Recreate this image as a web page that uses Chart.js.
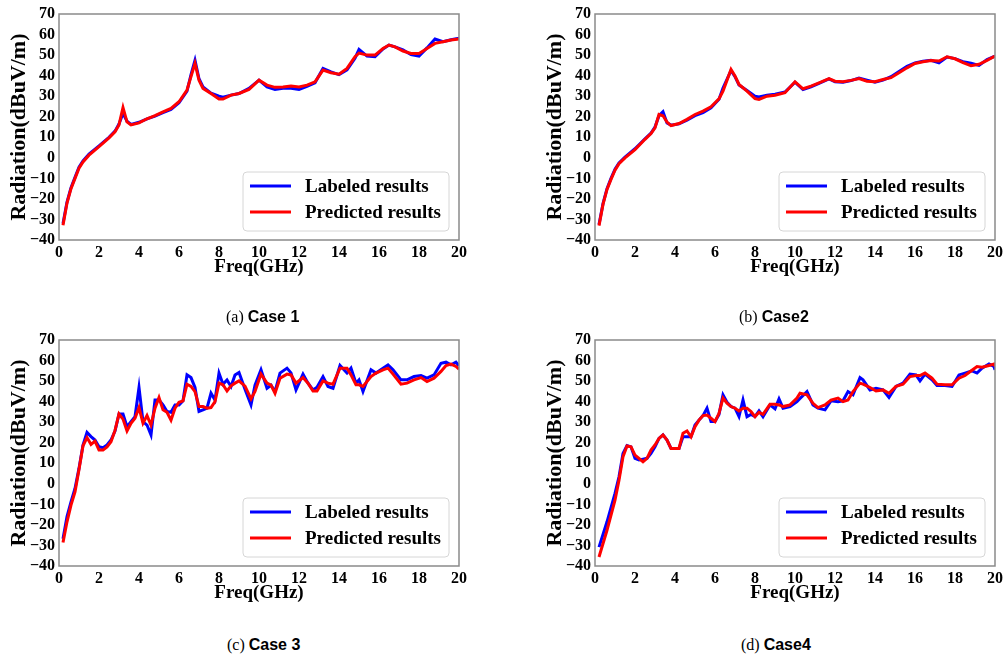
<!DOCTYPE html>
<html>
<head>
<meta charset="utf-8">
<script src="https://cdn.jsdelivr.net/npm/chart.js@4.4.0/dist/chart.umd.min.js"></script>
<style>
  html, body { margin: 0; padding: 0; background: #fff; overflow: hidden; }
  body { width: 1007px; height: 657px; position: relative; }
  .box { position: absolute; width: 470px; height: 290px; }
  .cap { position: absolute; font-size: 16px; line-height: 20px; white-space: nowrap; }
  .cap .l { font-family: "Liberation Serif", serif; }
  .cap .n { font-family: "Liberation Sans", Arial, sans-serif; font-weight: bold; }
</style>
</head>
<body>
<div class="box" style="left:0;top:0"><canvas id="c1"></canvas></div>
<div class="box" style="left:536px;top:0"><canvas id="c2"></canvas></div>
<div class="box" style="left:0;top:326px"><canvas id="c3"></canvas></div>
<div class="box" style="left:536px;top:326px"><canvas id="c4"></canvas></div>
<div class="cap" style="left:226px;top:307px"><span class="l">(a) </span><span class="n">Case 1</span></div>
<div class="cap" style="left:739px;top:307px"><span class="l">(b) </span><span class="n">Case2</span></div>
<div class="cap" style="left:227px;top:635px"><span class="l">(c) </span><span class="n">Case 3</span></div>
<div class="cap" style="left:741px;top:635px"><span class="l">(d) </span><span class="n">Case4</span></div>
<script>
// Case 1
const freq1 = [0.2, 0.4, 0.6, 0.8, 1.0, 1.2, 1.5, 2.0, 2.5, 2.8, 3.0, 3.2, 3.4, 3.6, 4.0, 4.4, 4.8, 5.2, 5.6, 6.0, 6.4, 6.6, 6.8, 7.0, 7.2, 7.6, 8.0, 8.2, 8.6, 9.0, 9.5, 10.0, 10.4, 10.8, 11.2, 11.6, 12.0, 12.4, 12.8, 13.2, 13.6, 14.0, 14.4, 14.8, 15.0, 15.4, 15.8, 16.2, 16.5, 16.8, 17.2, 17.6, 18.0, 18.4, 18.8, 19.2, 19.6, 20.0];
const labeled1 = [-32, -21.5, -14.5, -9.5, -4.5, -1.5, 1.8, 5.8, 10, 13, 16.5, 21.6, 17.8, 16.3, 17.3, 19, 20.3, 22, 23.5, 26.8, 32.5, 40.5, 47.5, 38.5, 34.5, 31.5, 30, 29.5, 30.5, 31.3, 33.8, 37.8, 34.5, 33.3, 33.8, 33.8, 33.3, 34.8, 36.5, 43.5, 41.8, 40.5, 42.8, 48.5, 52.8, 49.5, 49.2, 53, 54.9, 54, 52.5, 50.2, 49.5, 53.5, 57.8, 56.5, 57.5, 58.2];
const predicted1 = [-32.8, -22, -15, -10, -5, -2, 1.3, 5.4, 9.7, 12.7, 16, 24.5, 17.5, 16, 17, 19, 20.5, 22.4, 24, 27.3, 33, 39.5, 46, 37.8, 33.8, 31.3, 28.6, 28.6, 30.5, 31.3, 33.3, 37.8, 35.4, 34.3, 34.5, 34.9, 34.5, 35.4, 37, 42.7, 41.4, 40.7, 43.5, 49.2, 51, 50, 50, 53.2, 54.9, 54, 52, 50.8, 50.8, 53.2, 55.7, 56.5, 57.3, 57.8];

// Case 2
const freq2 = [0.2, 0.4, 0.6, 0.8, 1.0, 1.2, 1.5, 2.0, 2.5, 2.8, 3.0, 3.2, 3.4, 3.6, 3.8, 4.2, 4.6, 5.0, 5.4, 5.8, 6.2, 6.4, 6.8, 7.0, 7.2, 7.6, 8.0, 8.2, 8.6, 9.0, 9.5, 10.0, 10.4, 10.8, 11.2, 11.7, 12.0, 12.4, 12.8, 13.2, 13.6, 14.0, 14.4, 14.8, 15.2, 15.6, 16.0, 16.4, 16.8, 17.2, 17.6, 18.0, 18.4, 18.8, 19.2, 19.6, 20.0];
const labeled2 = [-32.5, -22.3, -15, -10, -5.6, -2.5, 0.4, 4.4, 9.3, 12, 15, 20.5, 22.4, 17, 15.9, 16.5, 18.3, 20.5, 22, 24.3, 28.5, 34, 42.5, 39.5, 35.5, 32.8, 30, 29.6, 30.5, 31, 32, 36.8, 33.2, 34.6, 36.2, 38.4, 37, 36.8, 37.6, 38.8, 37.8, 36.8, 37.8, 39.5, 42, 44.5, 46.2, 47, 47.5, 46.2, 49, 48.3, 46.8, 46, 45, 47.8, 49.5];
const predicted2 = [-33, -22.7, -15.4, -10.5, -6, -2.9, 0, 4, 9, 11.8, 14.6, 21.1, 20.5, 17.4, 15.7, 16.7, 18.7, 21.1, 22.7, 24.8, 28.7, 32.5, 43, 39.8, 35.7, 32.5, 28.8, 28.4, 30, 30.5, 31.7, 37, 33.6, 34.9, 36.5, 38.6, 37.3, 37, 37.7, 38.6, 37.3, 37, 38.1, 39, 41.4, 43.8, 45.9, 46.8, 47.4, 47.1, 49.2, 48.2, 46.3, 44.8, 45.5, 47.4, 49.5];

// Case 3
const freq3 = [0.2, 0.4, 0.6, 0.8, 1.0, 1.2, 1.4, 1.6, 1.8, 2.0, 2.2, 2.4, 2.6, 2.8, 3.0, 3.2, 3.4, 3.6, 3.8, 4.0, 4.2, 4.4, 4.6, 4.8, 5.0, 5.2, 5.4, 5.6, 5.8, 6.0, 6.2, 6.4, 6.6, 6.8, 7.0, 7.2, 7.4, 7.6, 7.8, 8.0, 8.2, 8.4, 8.6, 8.8, 9.0, 9.3, 9.6, 9.8, 10.1, 10.4, 10.6, 10.8, 11.05, 11.4, 11.6, 11.85, 12.2, 12.45, 12.7, 12.9, 13.2, 13.45, 13.7, 14.05, 14.4, 14.6, 14.85, 15.0, 15.2, 15.6, 15.85, 16.2, 16.45, 16.7, 17.1, 17.4, 17.75, 18.1, 18.4, 18.75, 19.1, 19.35, 19.6, 19.85, 20.0];
const labeled3 = [-26.7, -16, -8.8, -2.3, 7.5, 18.9, 25, 23, 21.3, 18, 17.6, 18.9, 21.3, 25.7, 34, 34, 27.8, 30.3, 32.7, 46.9, 30.3, 28.6, 23.8, 40.8, 40.8, 38.4, 35.2, 34.8, 38.4, 38.4, 40.4, 53, 51.7, 46.9, 35.2, 36, 36.8, 44.1, 40.8, 53.9, 48.5, 50.6, 47.4, 53, 54.2, 46, 38.4, 48, 55.5, 46.5, 48, 44.9, 53.9, 56.3, 54, 45.7, 53.4, 49, 45.7, 47, 52.2, 47.4, 46.5, 57.6, 53.9, 56.3, 49, 50.6, 44.9, 55.5, 53.9, 56.3, 57.9, 55.5, 50.6, 50.6, 52.2, 52.7, 51.4, 53, 58.7, 59.2, 57.9, 59.2, 57.5];
const predicted3 = [-28.6, -18.5, -10.4, -3.9, 7, 18.5, 22.5, 19.2, 20.8, 16.4, 16.4, 18, 20.5, 26, 34, 31.5, 25.7, 29.5, 31.9, 37.1, 29.5, 33.2, 28.6, 36.8, 42, 36, 34.8, 31, 36.8, 39.7, 40.4, 48.5, 47.4, 44.9, 37.6, 37.6, 36.8, 37.1, 40, 49, 48.2, 45.2, 47.7, 49, 50.1, 47.5, 41.3, 45, 53.4, 49, 48, 44.1, 51.4, 53.4, 53, 49, 51.7, 49, 45.2, 45.2, 50.1, 49, 48.5, 56.3, 56.3, 53, 48.2, 48.2, 47.4, 52.2, 53.9, 55.5, 56.3, 53.4, 48.5, 49, 50.6, 51.7, 49.8, 51.4, 54.7, 57.6, 58.3, 57.1, 55.8];

// Case 4
const freq4 = [0.2, 0.6, 1.0, 1.2, 1.4, 1.6, 1.8, 2.0, 2.2, 2.4, 2.6, 2.8, 3.0, 3.2, 3.4, 3.6, 3.8, 4.0, 4.2, 4.4, 4.6, 4.8, 5.0, 5.2, 5.4, 5.6, 5.8, 6.0, 6.2, 6.4, 6.6, 6.8, 7.0, 7.2, 7.4, 7.6, 7.8, 8.0, 8.2, 8.4, 8.75, 9.0, 9.2, 9.4, 9.75, 10.1, 10.25, 10.6, 10.9, 11.15, 11.5, 11.8, 12.15, 12.4, 12.65, 12.9, 13.25, 13.4, 13.75, 14.05, 14.4, 14.7, 15.05, 15.4, 15.75, 16.05, 16.25, 16.5, 16.85, 17.1, 17.5, 17.85, 18.2, 18.5, 18.85, 19.1, 19.35, 19.7, 19.95, 20.0];
const labeled4 = [-30.8, -18.5, -4.7, 3.4, 14.8, 18.6, 18, 12.4, 11.6, 12, 12.4, 14.8, 18, 22.1, 23.8, 21.3, 17.2, 17.2, 17.2, 22.9, 22.9, 22.9, 28.6, 31, 33.2, 36.8, 30.3, 30.3, 33.8, 43.3, 39.7, 37.6, 36.8, 32.7, 40.8, 32.7, 33.8, 32.7, 35.5, 32.7, 38.4, 36.5, 41.3, 36.8, 37.6, 40, 41.5, 44.9, 38.4, 36.8, 36, 40.4, 40, 40.4, 44.9, 43.3, 51.7, 50.6, 45.7, 46.5, 45.7, 42, 47.4, 49, 53.4, 53, 50.1, 53.4, 50.6, 47.8, 47.8, 47.4, 53, 53.9, 55, 53.9, 56.3, 58.3, 57.1, 55.5];
const predicted4 = [-35.6, -22.6, -8, 1.8, 13.2, 18.4, 18, 14, 12.4, 10.7, 12.4, 16.4, 18.9, 22.1, 23.8, 21.3, 17.2, 17.2, 17.2, 24.6, 25.7, 22.9, 27.8, 31, 33.2, 33.5, 31.9, 30.3, 34.3, 41.7, 39.2, 37.6, 36.8, 35.5, 36.8, 36.8, 35.2, 32.7, 34.8, 33.8, 38.7, 38.7, 38.4, 37.6, 38.4, 41.7, 44.1, 43.3, 39.2, 37.1, 38.4, 40.8, 41.7, 40, 40.8, 44.9, 49, 48.5, 46.9, 45.2, 45.7, 44.1, 47.4, 48.5, 52.2, 52.7, 52.7, 53.9, 51.4, 48.5, 48.2, 48.2, 51.4, 52.7, 55.3, 57.1, 56.8, 57.6, 58.3, 57.1];

const yTicks = [-40, -30, -20, -10, 0, 10, 20, 30, 40, 50, 60, 70];
const xTicks = [0, 2, 4, 6, 8, 10, 12, 14, 16, 18, 20];
const seriesNames = ['Labeled results', 'Predicted results'];

const serif = '"Liberation Serif", "Times New Roman", serif';

// grey frame round the plot, like matplotlib spines
const framePlugin = {
  id: 'frame',
  afterDatasetsDraw(chart) {
    const a = chart.chartArea;
    const ctx = chart.ctx;
    ctx.save();
    ctx.strokeStyle = '#8a8a8a';
    ctx.lineWidth = 1.5;
    ctx.strokeRect(a.left, a.top, a.right - a.left, a.bottom - a.top);
    ctx.restore();
  }
};

// legend box in the lower right corner of the plot
const boxLegend = {
  id: 'boxLegend',
  afterDraw(chart) {
    const a = chart.chartArea;
    const ctx = chart.ctx;
    const w = 206, h = 59;
    const x = a.right - 10 - w, y = a.bottom - 9 - h;
    ctx.save();
    ctx.beginPath();
    ctx.roundRect(x, y, w, h, 4);
    ctx.fillStyle = 'rgba(255,255,255,0.8)';
    ctx.fill();
    ctx.strokeStyle = '#d6d6d6';
    ctx.lineWidth = 1;
    ctx.stroke();
    ctx.font = 'bold 19px ' + serif;
    ctx.textBaseline = 'middle';
    chart.data.datasets.forEach((ds, i) => {
      const ly = y + 14 + i * 26;
      ctx.strokeStyle = ds.borderColor;
      ctx.lineWidth = 3;
      ctx.beginPath();
      ctx.moveTo(x + 7, ly);
      ctx.lineTo(x + 48, ly);
      ctx.stroke();
      ctx.fillStyle = '#000';
      ctx.fillText(ds.label, x + 62, ly + 1);
    });
    ctx.restore();
  }
};

function makeChart(id, freq, labeled, predicted) {
  const ctx = document.getElementById(id).getContext('2d');
  return new Chart(ctx, {
    type: 'line',
    data: {
      datasets: [{
        label: seriesNames[0],
        data: freq.map((f, i) => ({ x: f, y: labeled[i] })),
        borderColor: '#0000ff',
        borderWidth: 3,
        pointRadius: 0,
        tension: 0,
        order: 2
      }, {
        label: seriesNames[1],
        data: freq.map((f, i) => ({ x: f, y: predicted[i] })),
        borderColor: '#ff0000',
        borderWidth: 3,
        pointRadius: 0,
        tension: 0,
        order: 1
      }]
    },
    options: {
      responsive: false,
      animation: false,
      layout: { padding: { top: 14, right: 7, left: 0, bottom: 0 } },
      plugins: { legend: { display: false }, tooltip: { enabled: false } },
      scales: {
        x: {
          type: 'linear',
          min: 0,
          max: 20,
          afterBuildTicks: s => { s.ticks = xTicks.map(v => ({ value: v })); },
          afterFit: s => { s.height = 50; },
          grid: { display: false, drawTicks: false },
          border: { display: false },
          ticks: { autoSkip: false, color: '#000', padding: 3, maxRotation: 0, font: { family: serif, size: 16, weight: 'bold' } },
          title: { display: true, text: 'Freq(GHz)', color: '#000', padding: { top: 0, bottom: 12 }, font: { family: serif, size: 19, weight: 'bold' } }
        },
        y: {
          min: -40,
          max: 70,
          afterBuildTicks: s => { s.ticks = yTicks.map(v => ({ value: v })); },
          afterFit: s => { s.width = 59; },
          grid: { display: false, drawTicks: false },
          border: { display: false },
          ticks: {
            autoSkip: false, color: '#000', padding: 4,
            font: { family: serif, size: 16, weight: 'bold' },
            callback: v => String(v).replace('-', '\u2212')
          },
          title: { display: true, text: 'Radiation(dBuV/m)', color: '#000', padding: { top: 6, bottom: 0 }, font: { family: serif, size: 22, weight: 'bold' } }
        }
      }
    },
    plugins: [framePlugin, boxLegend]
  });
}

['c1', 'c2', 'c3', 'c4'].forEach(id => {
  const c = document.getElementById(id);
  c.width = 470;
  c.height = 290;
});

makeChart('c1', freq1, labeled1, predicted1);
makeChart('c2', freq2, labeled2, predicted2);
makeChart('c3', freq3, labeled3, predicted3);
makeChart('c4', freq4, labeled4, predicted4);
</script>
</body>
</html>
